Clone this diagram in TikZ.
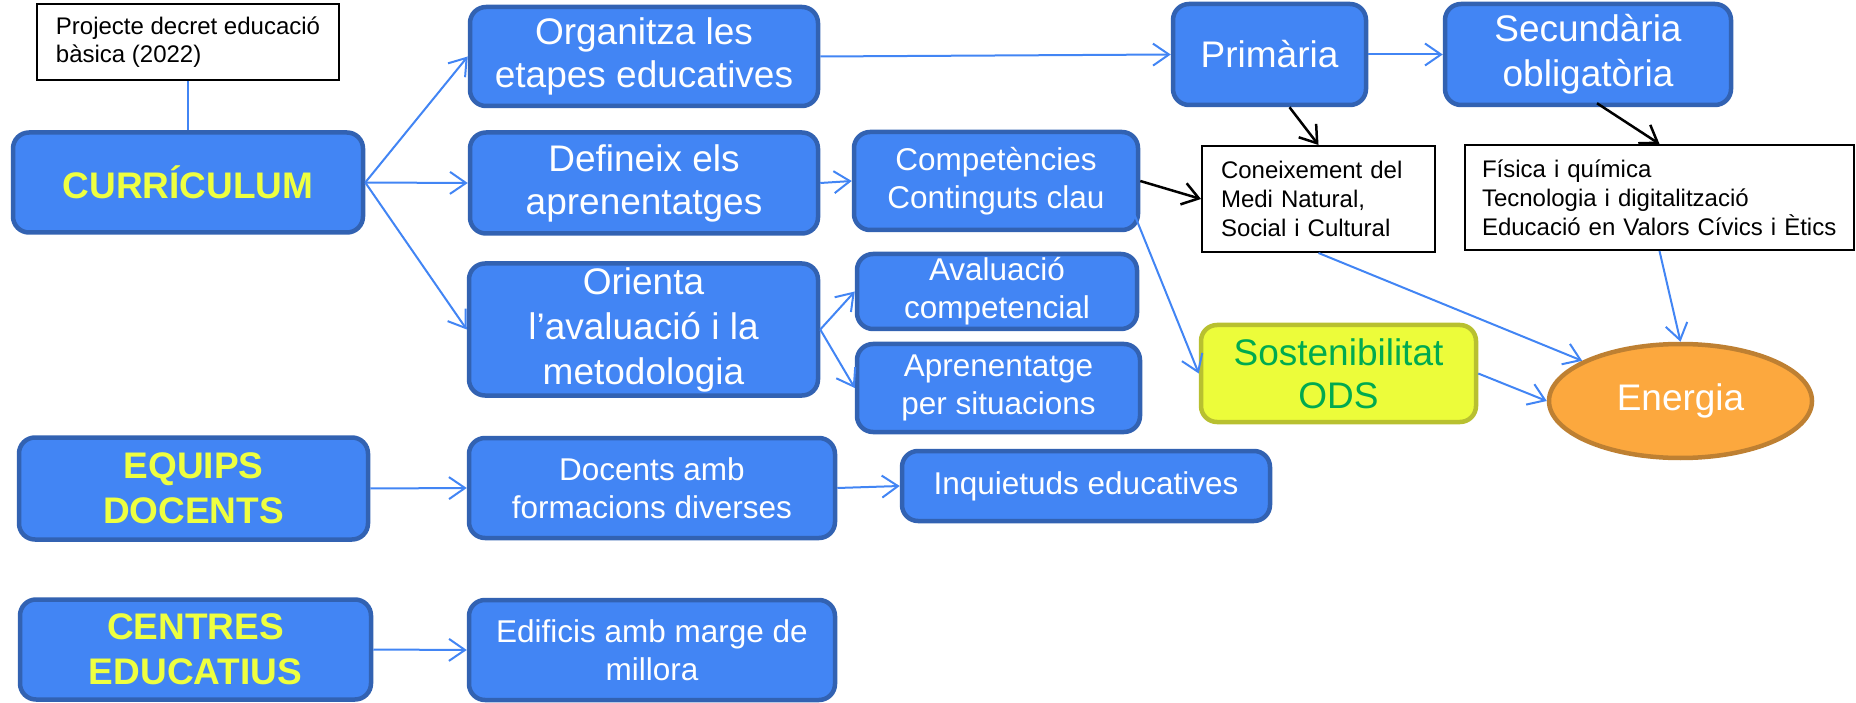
\documentclass[tikz,border=0pt]{standalone}
\usepackage{fontspec}
\setmainfont{Liberation Sans}
\usetikzlibrary{arrows.meta,shapes.geometric,calc}
\definecolor{bfill}{RGB}{66,133,244}
\definecolor{bdraw}{RGB}{50,98,178}
\definecolor{ytext}{RGB}{238,255,64}
\definecolor{sfill}{RGB}{236,252,58}
\definecolor{sdraw}{RGB}{184,192,48}
\definecolor{gtext}{RGB}{0,170,80}
\definecolor{efill}{RGB}{252,168,62}
\definecolor{edraw}{RGB}{190,128,50}
\definecolor{arr}{RGB}{66,133,244}
\begin{document}
\begin{tikzpicture}[x=1pt,y=-1pt,
  bbox/.style={rectangle,rounded corners=16pt,draw=bdraw,fill=bfill,line width=4.5pt,text=white,align=center,inner sep=0pt},
  big/.style={font=\fontsize{37}{43}\selectfont},
  bigb/.style={font=\fontsize{37}{45}\selectfont\bfseries,text=ytext},
  mid/.style={font=\fontsize{31.5}{38}\selectfont},
  wbox/.style={rectangle,draw=black,line width=2pt,fill=white,align=left,inner ysep=0pt,font=\fontsize{24}{29}\selectfont},
  barrow/.style={draw=arr,line width=2pt,-{Straight Barb[length=16pt,width=22pt]}},
  karrow/.style={draw=black,line width=2.5pt,-{Straight Barb[length=16pt,width=22pt]}}
]
\useasboundingbox (0,0) rectangle (1856,703);

% left column
\node[wbox,font=\fontsize{24}{28}\selectfont,minimum width=302pt,minimum height=76pt] (proj) at (188,42) {Projecte decret educació\\bàsica (2022)};
\node[bbox,bigb,minimum width=350pt,minimum height=100pt] (cur) at (188,182.5) {CURRÍCULUM};
\node[bbox,bigb,minimum width=349pt,minimum height=102pt] (equ) at (193.5,488.5) {EQUIPS\\DOCENTS};
\node[bbox,bigb,minimum width=351pt,minimum height=100pt] (cen) at (195.5,649.5) {CENTRES\\EDUCATIUS};

% second column
\node[bbox,big,minimum width=348pt,minimum height=99pt] (org) at (644,56.5) {Organitza les\\etapes educatives};
\node[bbox,big,minimum width=348pt,minimum height=101pt] (def) at (644,183) {Defineix els\\aprenentatges};
\node[bbox,font=\fontsize{37}{45}\selectfont,minimum width=349pt,minimum height=132pt] (ori) at (643.5,329.5) {Orienta\\l’avaluació i la\\metodologia};
\node[bbox,mid,minimum width=366pt,minimum height=100pt] (doc) at (652,488) {Docents amb\\formacions diverses};
\node[bbox,mid,minimum width=366pt,minimum height=100pt] (edi) at (652,650) {Edificis amb marge de\\millora};

% third column
\node[bbox,mid,minimum width=284pt,minimum height=98pt] (comp) at (996,181) {Competències\\Continguts clau};
\node[bbox,mid,minimum width=280pt,minimum height=75pt] (aval) at (997,291.5) {Avaluació\\competencial};
\node[bbox,mid,minimum width=283pt,minimum height=88pt] (apr) at (998.5,388) {Aprenentatge\\per situacions};
\node[bbox,mid,minimum width=368pt,minimum height=70pt] (inq) at (1086,486) {Inquietuds educatives};

% right part
\node[bbox,big,minimum width=193pt,minimum height=101pt] (prim) at (1269.5,54.5) {Primària};
\node[bbox,font=\fontsize{37}{45}\selectfont,minimum width=286pt,minimum height=101pt] (sec) at (1588,54.5) {Secundària\\obligatòria};
\node[wbox,text width=195pt,inner xsep=19pt,minimum height=106pt] (con) at (1318.5,199) {Coneixement del\\Medi Natural,\\Social i Cultural};
\node[wbox,text width=355pt,inner xsep=17pt,minimum height=105pt] (fis) at (1659.5,197.5) {Física i química\\Tecnologia i digitalització\\Educació en Valors Cívics i Ètics};
\node[bbox,big,draw=sdraw,fill=sfill,text=gtext,minimum width=275pt,minimum height=97pt] (sost) at (1338.5,373.5) {Sostenibilitat\\ODS};
\node[ellipse,draw=edraw,fill=efill,line width=4.5pt,text=white,big,inner sep=0pt,minimum width=263pt,minimum height=114pt] (ene) at (1680.5,401) {Energia};

% connectors
\draw[draw=arr,line width=2pt] (proj.south) -- (cur.north);
\draw[barrow] (cur.east) -- (org.west);
\draw[barrow] (cur.east) -- (def.west);
\draw[barrow] (cur.east) -- (ori.west);
\draw[barrow] (equ.east) -- (doc.west);
\draw[barrow] (cen.east) -- (edi.west);
\draw[barrow] (doc.east) -- (inq.west);
\draw[barrow] (def.east) -- (comp.west);
\draw[barrow] (ori.east) -- (aval.west);
\draw[barrow] (ori.east) -- (apr.west);
\draw[barrow] (org.east) -- (prim.west);
\draw[barrow] (prim.east) -- (sec.west);
\draw[karrow] ($(prim.south)+(20,0)$) -- (con.north);
\draw[karrow] ($(sec.south)+(9,-4)$) -- (fis.north);
\draw[karrow] (comp.east) -- (con.west);
\draw[barrow] ($(comp.east)+(-23,-9)$) -- (sost.west);
\draw[barrow] (con.south) -- (ene);
\draw[barrow] (fis.south) -- (ene.north);
\draw[barrow] (sost.east) -- (ene.west);
\end{tikzpicture}
\end{document}
